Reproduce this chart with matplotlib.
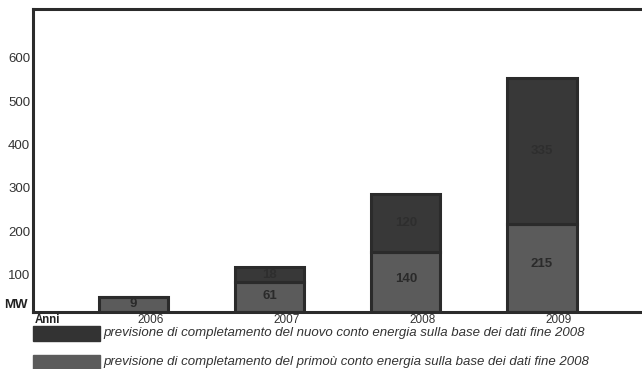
import matplotlib.pyplot as plt
from matplotlib.patches import Rectangle

plt.rcParams['font.family'] = ['Liberation Sans', 'DejaVu Sans']

# data (bar heights, labels as printed)
anni = ["2006", "2007", "2008", "2009"]
primo_h = [34, 69, 138, 203]      # lower segment height
nuovo_h = [0, 34, 134, 336]       # upper segment height
primo_lbl = ["9", "61", "140", "215"]
nuovo_lbl = ["", "18", "120", "335"]
yticks = [100, 200, 300, 400, 500, 600]

FLOOR = 14
dark = "#383838"
gray = "#5b5b5b"
edge = "#2b2b2b"

fig = plt.figure(figsize=(6.42, 3.69), dpi=100)
ax = fig.add_axes([0.0514, 0.1545, 0.96, 0.8211])

x = list(range(len(anni)))
ax.bar(x, primo_h, width=0.51, bottom=FLOOR, color=gray, edgecolor=edge, linewidth=2.2)
tops = [FLOOR + p for p in primo_h]
ax.bar(x, nuovo_h, width=0.51, bottom=tops, color=dark, edgecolor=edge, linewidth=2.2)

for i in x:
    ax.text(i, FLOOR + primo_h[i] * 0.55, primo_lbl[i], ha="center", va="center",
            fontsize=9.5, fontweight="bold", color="#2a2a2a")
    if nuovo_lbl[i]:
        ax.text(i, tops[i] + nuovo_h[i] / 2, nuovo_lbl[i], ha="center", va="center",
                fontsize=9.5, fontweight="bold", color="#2e2e2e")

ax.set_xlim(-0.74, 3.79)
ax.set_ylim(FLOOR, 712)
ax.set_yticks(yticks)
ax.set_yticklabels([str(v) for v in yticks], fontsize=9.5, color="#333333")
ax.tick_params(axis="y", length=0, pad=2)
ax.set_xticks([])
for i, a in enumerate(anni):
    ax.text(i + 0.125, FLOOR - 4, a, ha="center", va="top", fontsize=8.5, color="#333333")

for s in ["left", "top", "bottom"]:
    ax.spines[s].set_linewidth(2.2)
    ax.spines[s].set_color(edge)
ax.spines["right"].set_visible(False)

fig.text(4 / 642, 1 - 305 / 369, "MW", fontsize=9.5, fontweight="bold", color="#222222", va="center")
fig.text(35 / 642, 1 - 320 / 369, "Anni", fontsize=8.3, fontweight="bold", color="#222222", va="center")

# legend
fig.patches.append(Rectangle((33 / 642, 1 - 341 / 369), 67 / 642, 15 / 369,
                             transform=fig.transFigure, color="#333333"))
fig.patches.append(Rectangle((33 / 642, 1 - 369 / 369), 67 / 642, 14 / 369,
                             transform=fig.transFigure, color=gray))
fig.text(103 / 642, 1 - 333 / 369,
         "previsione di completamento del nuovo conto energia sulla base dei dati fine 2008",
         fontsize=9.5, style="italic", color="#333333", va="center")
fig.text(103 / 642, 1 - 362 / 369,
         "previsione di completamento del primoù conto energia sulla base dei dati fine 2008",
         fontsize=9.5, style="italic", color="#333333", va="center")

fig.savefig("out.png", dpi=100)
